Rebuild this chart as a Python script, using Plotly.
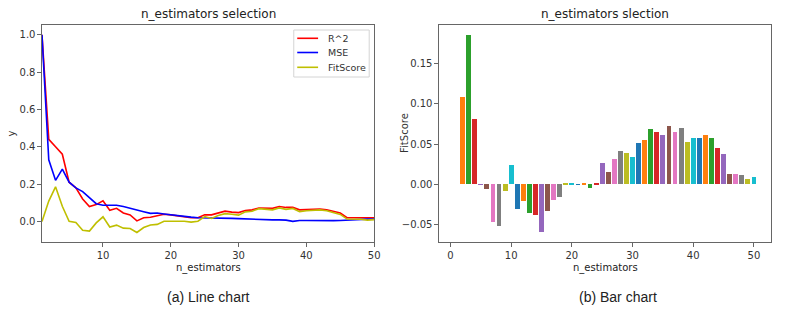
import plotly.graph_objects as go

n_estimators = list(range(1, 51))

r2 = [1.0, 0.44, 0.40, 0.36, 0.21, 0.18, 0.12, 0.08, 0.09, 0.11,
      0.06, 0.07, 0.045, 0.035, 0.003, 0.02, 0.022, 0.028, 0.038, 0.035,
      0.03, 0.025, 0.02, 0.02, 0.035, 0.035, 0.045, 0.055, 0.05, 0.047,
      0.058, 0.062, 0.072, 0.072, 0.07, 0.08, 0.075, 0.075, 0.062, 0.063,
      0.064, 0.066, 0.062, 0.055, 0.045, 0.02, 0.02, 0.02, 0.02, 0.02]

mse = [1.0, 0.33, 0.22, 0.28, 0.21, 0.18, 0.16, 0.125, 0.095, 0.087,
       0.087, 0.087, 0.08, 0.072, 0.062, 0.052, 0.043, 0.045, 0.04, 0.035,
       0.03, 0.027, 0.023, 0.02, 0.02, 0.02, 0.018, 0.018, 0.016, 0.015,
       0.013, 0.012, 0.01, 0.009, 0.008, 0.008, 0.007, 0.0, 0.005, 0.005,
       0.004, 0.004, 0.004, 0.004, 0.005, 0.007, 0.01, 0.012, 0.012, 0.012]

fitscore = [0.0, 0.109, 0.1855, 0.081, 0.0005, -0.0056, -0.047, -0.052, -0.008, 0.0246,
            -0.030, -0.020, -0.036, -0.038, -0.0595, -0.033, -0.019, -0.016, 0.0008, 0.0012,
            0.0005, 0.0008, -0.004, 0.001, 0.026, 0.0155, 0.032, 0.0416, 0.0387, 0.0337,
            0.051, 0.0548, 0.0685, 0.0648, 0.0618, 0.0726, 0.0648, 0.0697, 0.0524, 0.0573,
            0.0577, 0.0618, 0.0573, 0.0457, 0.0375, 0.0127, 0.0127, 0.0114, 0.0068, 0.0097]

series_names = ["R^2", "MSE", "FitScore"]
series_colors = ["#ff0000", "#0000ff", "#bfbf00"]

tab10 = ['#1f77b4', '#ff7f0e', '#2ca02c', '#d62728', '#9467bd',
         '#8c564b', '#e377c2', '#7f7f7f', '#bcbd22', '#17becf']
bar_colors = [tab10[i % 10] for i in range(len(n_estimators))]

W, H = 796, 318
def px_x(p):
    return p / W
def px_y(p):
    return 1 - p / H

FONT = "DejaVu Sans"
TXT = "#333333"
AX = "#666666"

fig = go.Figure()
for name, vals, col in zip(series_names, [r2, mse, fitscore], series_colors):
    fig.add_trace(go.Scatter(x=n_estimators, y=vals, mode="lines", name=name,
                             line=dict(color=col, width=1.6), xaxis="x", yaxis="y",
                             showlegend=False))
fig.add_trace(go.Bar(x=n_estimators, y=fitscore, width=0.8,
                     marker=dict(color=bar_colors, line=dict(width=0)),
                     showlegend=False, xaxis="x2", yaxis="y2"))

axis_common = dict(showgrid=False, zeroline=False, showline=True, linecolor=AX, linewidth=1,
                   mirror=True, ticks="outside", ticklen=3.5, tickwidth=1, tickcolor=AX,
                   tickfont=dict(family=FONT, size=10, color=TXT))

ydom = [px_y(242.3), px_y(25)]
fig.update_layout(
    width=W, height=H, margin=dict(l=0, r=0, t=0, b=0),
    paper_bgcolor="white", plot_bgcolor="white",
    showlegend=False, bargap=0,
    xaxis=dict(domain=[px_x(42.3), px_x(377)], range=[1, 50], tickvals=[10, 20, 30, 40, 50],
               anchor="y", **axis_common),
    yaxis=dict(domain=ydom, range=[-0.112, 1.053], tickvals=[0, 0.2, 0.4, 0.6, 0.8, 1.0],
               tickformat=".1f", anchor="x", **axis_common),
    xaxis2=dict(domain=[px_x(442.3), px_x(777.3)], range=[-1.89, 52.89], tickvals=[0, 10, 20, 30, 40, 50],
                anchor="y2", **axis_common),
    yaxis2=dict(domain=ydom, range=[-0.0718, 0.1978], tickvals=[-0.05, 0, 0.05, 0.10, 0.15],
                tickformat=".2f", anchor="x2", **axis_common),
)

# legend box (layout element)
fig.add_shape(type="rect", xref="paper", yref="paper",
              x0=px_x(296), x1=px_x(372), y0=px_y(77), y1=px_y(30),
              line=dict(color="#d4d4d4", width=1), fillcolor="rgba(255,255,255,0.85)", layer="above")
leg_y = [38.3, 52.5, 67.3]
for name, col, yy in zip(series_names, series_colors, leg_y):
    fig.add_shape(type="line", xref="paper", yref="paper",
                  x0=px_x(299.5), x1=px_x(320.5), y0=px_y(yy), y1=px_y(yy),
                  line=dict(color=col, width=1.6), layer="above")
    fig.add_annotation(text=name, x=px_x(328), y=px_y(yy), xref="paper", yref="paper",
                       showarrow=False, xanchor="left", yanchor="middle",
                       font=dict(family=FONT, size=9.5, color=TXT))

ann = [
    dict(text="n_estimators selection", x=px_x(209.7), y=px_y(14), size=12, family=FONT),
    dict(text="n_estimators slection", x=px_x(609.8), y=px_y(14), size=12, family=FONT),
    dict(text="n_estimators", x=px_x(209.7), y=px_y(268), size=10, family=FONT),
    dict(text="n_estimators", x=px_x(609.8), y=px_y(268), size=10, family=FONT),
    dict(text="(a) Line chart", x=px_x(210), y=px_y(297), size=14, family="Liberation Sans"),
    dict(text="(b) Bar chart", x=px_x(623), y=px_y(297), size=14, family="Liberation Sans"),
]
for a in ann:
    fig.add_annotation(text=a["text"], x=a["x"], y=a["y"], xref="paper", yref="paper",
                       showarrow=False, xanchor="center", yanchor="middle",
                       font=dict(family=a["family"], size=a["size"], color="#222222"))
fig.add_annotation(text="y", x=px_x(11.5), y=px_y(133), xref="paper", yref="paper",
                   showarrow=False, textangle=-90, xanchor="center", yanchor="middle",
                   font=dict(family=FONT, size=10, color=TXT))
fig.add_annotation(text="FitScore", x=px_x(407), y=px_y(133), xref="paper", yref="paper",
                   showarrow=False, textangle=-90, xanchor="center", yanchor="middle",
                   font=dict(family=FONT, size=10, color=TXT))

fig.write_html("out.html", config={"displayModeBar": False},
               post_script="document.body.style.margin='0';document.body.style.padding='0';document.body.style.overflow='hidden';")
